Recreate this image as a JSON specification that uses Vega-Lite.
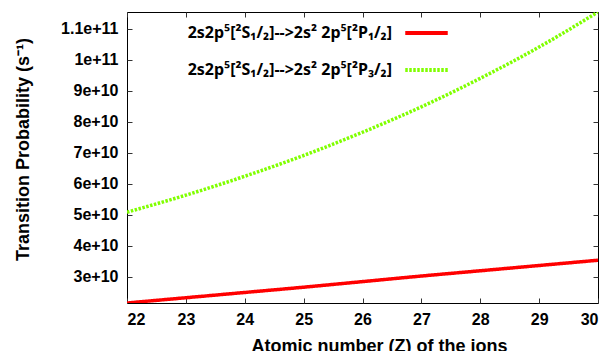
{
  "$schema": "https://vega.github.io/schema/vega-lite/v6.json",
  "width": 471,
  "height": 291,
  "autosize": {"type": "none"},
  "padding": {"left": 127, "top": 12, "right": 15, "bottom": 48},
  "config": {
    "view": {"stroke": "black", "strokeWidth": 1},
    "font": "Liberation Sans",
    "axis": {
      "grid": false,
      "domain": false,
      "tickColor": "#333",
      "tickSize": -5,
      "labelFont": "Liberation Sans",
      "labelFontWeight": "bold",
      "labelFontSize": 16,
      "labelColor": "black",
      "titleFont": "Liberation Sans",
      "titleFontWeight": "bold",
      "titleFontSize": 18,
      "titleColor": "black"
    },
    "legend": {
      "orient": "none",
      "legendX": 289,
      "legendY": 10.5,
      "padding": 0,
      "title": null,
      "symbolType": "M-2.5,0H2.5",
      "symbolSize": 289,
      "symbolStrokeWidth": 4,
      "rowPadding": 18,
      "labelAlign": "right",
      "labelOffset": -45,
      "labelLimit": 500,
      "labelFont": "Noto Sans",
      "labelFontWeight": "bold",
      "labelFontSize": 16,
      "labelColor": "black"
    }
  },
  "data": {
    "values": [
      {"Z": 22, "A": 2.15e10, "transition": "2s2p⁵[²S₁/₂]-->2s² 2p⁵[²P₁/₂]"},
      {"Z": 23, "A": 2.32e10, "transition": "2s2p⁵[²S₁/₂]-->2s² 2p⁵[²P₁/₂]"},
      {"Z": 24, "A": 2.49e10, "transition": "2s2p⁵[²S₁/₂]-->2s² 2p⁵[²P₁/₂]"},
      {"Z": 25, "A": 2.66e10, "transition": "2s2p⁵[²S₁/₂]-->2s² 2p⁵[²P₁/₂]"},
      {"Z": 26, "A": 2.84e10, "transition": "2s2p⁵[²S₁/₂]-->2s² 2p⁵[²P₁/₂]"},
      {"Z": 27, "A": 3.02e10, "transition": "2s2p⁵[²S₁/₂]-->2s² 2p⁵[²P₁/₂]"},
      {"Z": 28, "A": 3.19e10, "transition": "2s2p⁵[²S₁/₂]-->2s² 2p⁵[²P₁/₂]"},
      {"Z": 29, "A": 3.36e10, "transition": "2s2p⁵[²S₁/₂]-->2s² 2p⁵[²P₁/₂]"},
      {"Z": 30, "A": 3.53e10, "transition": "2s2p⁵[²S₁/₂]-->2s² 2p⁵[²P₁/₂]"},
      {"Z": 22, "A": 5.08e10, "transition": "2s2p⁵[²S₁/₂]-->2s² 2p⁵[²P₃/₂]"},
      {"Z": 23, "A": 5.63e10, "transition": "2s2p⁵[²S₁/₂]-->2s² 2p⁵[²P₃/₂]"},
      {"Z": 24, "A": 6.24e10, "transition": "2s2p⁵[²S₁/₂]-->2s² 2p⁵[²P₃/₂]"},
      {"Z": 25, "A": 6.91e10, "transition": "2s2p⁵[²S₁/₂]-->2s² 2p⁵[²P₃/₂]"},
      {"Z": 26, "A": 7.66e10, "transition": "2s2p⁵[²S₁/₂]-->2s² 2p⁵[²P₃/₂]"},
      {"Z": 27, "A": 8.48e10, "transition": "2s2p⁵[²S₁/₂]-->2s² 2p⁵[²P₃/₂]"},
      {"Z": 28, "A": 9.40e10, "transition": "2s2p⁵[²S₁/₂]-->2s² 2p⁵[²P₃/₂]"},
      {"Z": 29, "A": 10.41e10, "transition": "2s2p⁵[²S₁/₂]-->2s² 2p⁵[²P₃/₂]"},
      {"Z": 30, "A": 11.54e10, "transition": "2s2p⁵[²S₁/₂]-->2s² 2p⁵[²P₃/₂]"}
    ]
  },
  "layer": [
    {
      "mark": {"type": "line", "clip": true, "strokeWidth": 3.5, "interpolate": "monotone"},
      "encoding": {
        "x": {
          "field": "Z",
          "type": "quantitative",
          "scale": {"domain": [22, 30], "nice": false, "zero": false},
          "axis": {
            "values": [22, 23, 24, 25, 26, 27, 28, 29, 30],
            "format": "d",
            "labelPadding": 13,
            "title": "Atomic number (Z) of the ions",
            "titleX": 252,
            "titleY": 48,
            "titleBaseline": "alphabetic"
          }
        },
        "y": {
          "field": "A",
          "type": "quantitative",
          "scale": {"domain": [2.15e10, 1.154e11], "nice": false, "zero": false},
          "axis": {
            "values": [3e10, 4e10, 5e10, 6e10, 7e10, 8e10, 9e10, 1e11, 1.1e11],
            "labelExpr": "format(datum.value, '.2~e')",
            "labelPadding": 14,
            "title": "Transition Probability (s⁻¹)",
            "titleX": -99,
            "titleY": 137,
            "titleBaseline": "alphabetic",
            "titleAngle": -90
          }
        },
        "color": {
          "field": "transition",
          "type": "nominal",
          "scale": {
            "domain": ["2s2p⁵[²S₁/₂]-->2s² 2p⁵[²P₁/₂]", "2s2p⁵[²S₁/₂]-->2s² 2p⁵[²P₃/₂]"],
            "range": ["#ff0000", "#80ff00"]
          }
        },
        "strokeDash": {
          "field": "transition",
          "type": "nominal",
          "scale": {
            "domain": ["2s2p⁵[²S₁/₂]-->2s² 2p⁵[²P₁/₂]", "2s2p⁵[²S₁/₂]-->2s² 2p⁵[²P₃/₂]"],
            "range": [[1, 0], [2.5, 1.5]]
          }
        }
      }
    },
    {
      "mark": {"type": "point", "opacity": 0},
      "encoding": {
        "x": {
          "field": "Z",
          "type": "quantitative",
          "axis": {
            "orient": "top",
            "values": [22, 23, 24, 25, 26, 27, 28, 29, 30],
            "labels": false,
            "title": null
          }
        },
        "y": {
          "field": "A",
          "type": "quantitative",
          "axis": {
            "orient": "right",
            "values": [3e10, 4e10, 5e10, 6e10, 7e10, 8e10, 9e10, 1e11, 1.1e11],
            "labels": false,
            "title": null
          }
        }
      }
    }
  ],
  "resolve": {"axis": {"x": "independent", "y": "independent"}}
}
